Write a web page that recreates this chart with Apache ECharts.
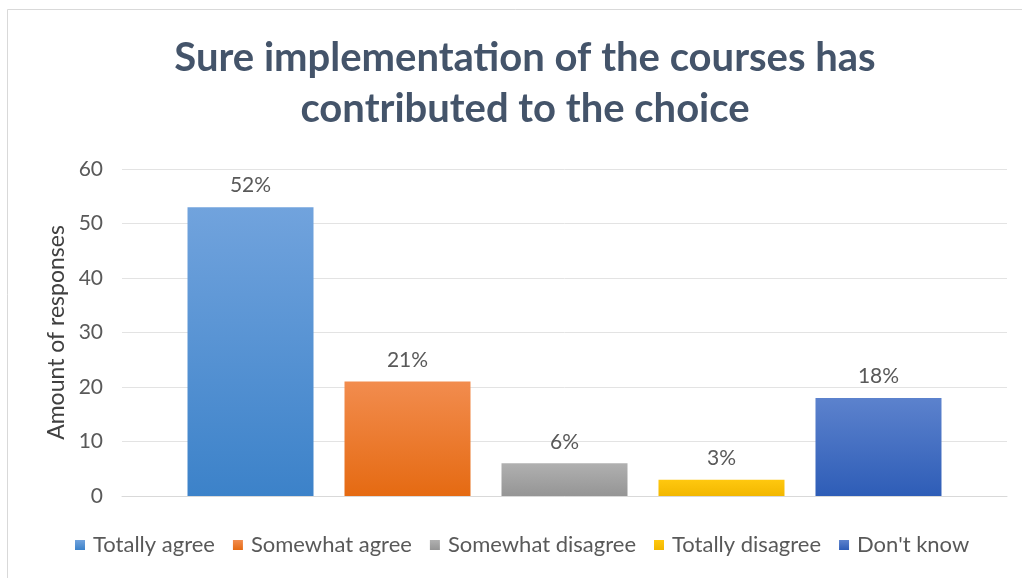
<!DOCTYPE html>
<html>
<head>
<meta charset="utf-8">
<script src="https://cdn.jsdelivr.net/npm/echarts@6/dist/echarts.min.js"></script>
<style>html,body{margin:0;padding:0;background:#fff;}#c{width:1022px;height:578px;}</style>
</head>
<body>
<div id="c"></div>
<script>
var seriesNames = ['Totally agree', 'Somewhat agree', 'Somewhat disagree', 'Totally disagree', "Don't know"];
var seriesValues = [53, 21, 6, 3, 18];
var percentLabels = ['52%', '21%', '6%', '3%', '18%'];
var yTicks = { min: 0, max: 60, interval: 10 };
var categories = [''];

var gradients = [
  ['#71A3DD', '#3C82C9'],
  ['#F28C4E', '#E56A12'],
  ['#B0B0B0', '#959595'],
  ['#FFC80F', '#F2B700'],
  ['#5C82CD', '#2E5DB7']
];

var chart = echarts.init(document.getElementById('c'), null, { renderer: 'canvas' });
var series = seriesNames.map(function (n, i) {
  return {
    name: n,
    type: 'bar',
    barWidth: 126,
    barGap: '24.6%',
    data: [seriesValues[i]],
    itemStyle: {
      color: new echarts.graphic.LinearGradient(0, 0, 0, 1, [
        { offset: 0, color: gradients[i][0] },
        { offset: 1, color: gradients[i][1] }
      ])
    },
    label: {
      show: true,
      position: 'top',
      distance: 11,
      formatter: function () { return percentLabels[i]; },
      fontFamily: 'Lato',
      fontSize: 21,
      color: '#595959'
    }
  };
});

chart.setOption({
  backgroundColor: '#fff',
  animation: false,
  graphic: [{
    type: 'rect',
    shape: { x: 7.5, y: 9.5, width: 1040, height: 600 },
    style: { fill: 'none', stroke: '#D9D9D9', lineWidth: 1 },
    silent: true
  }],
  title: {
    text: 'Sure implementation of the courses has\ncontributed to the choice',
    left: 520,
    textAlign: 'center',
    top: 28,
    textStyle: {
      fontFamily: 'Lato',
      fontWeight: 'bold',
      fontSize: 40,
      lineHeight: 51,
      color: '#44546A'
    }
  },
  legend: {
    data: seriesNames,
    bottom: 17,
    left: 70,
    icon: 'rect',
    itemWidth: 10,
    itemHeight: 10,
    itemGap: 18,
    textStyle: { fontFamily: 'Lato', fontSize: 22, color: '#595959', padding: [0, 0, 0, 3] }
  },
  grid: { left: 122, right: 15, top: 169, bottom: 82 },
  xAxis: {
    type: 'category',
    data: categories,
    axisLine: { lineStyle: { color: '#D9D9D9' } },
    axisTick: { show: false },
    axisLabel: { show: false }
  },
  yAxis: {
    type: 'value',
    min: yTicks.min,
    max: yTicks.max,
    interval: yTicks.interval,
    name: 'Amount of responses',
    nameLocation: 'middle',
    nameGap: 52,
    nameTextStyle: { fontFamily: 'Lato', fontSize: 23, color: '#404040' },
    axisLine: { show: false },
    axisTick: { show: false },
    axisLabel: { fontFamily: 'Lato', fontSize: 21, color: '#595959', margin: 19 },
    splitLine: { lineStyle: { color: '#E3E3E3' } }
  },
  series: series
});
</script>
</body>
</html>
